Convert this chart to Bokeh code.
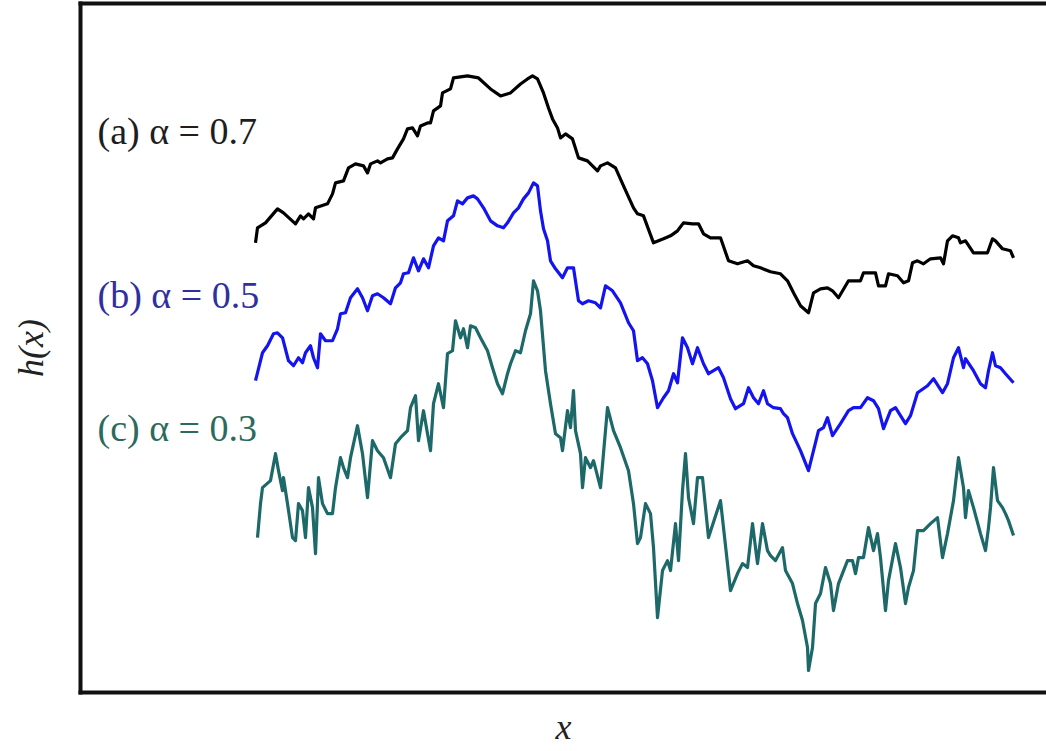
from bokeh.plotting import figure
from bokeh.models import Range1d, LinearAxis, FixedTicker, Label
from bokeh.embed import file_html
from bokeh.resources import INLINE

# ---- data ----
xa = [255, 257, 265, 277, 283, 295, 300, 303, 308, 313, 315, 327, 332, 335, 343, 348, 355, 363, 367, 370,
      377, 380, 387, 392, 397, 403, 407, 412, 417, 420, 427, 430, 433, 440, 442, 450, 453, 467, 478, 490,
      500, 510, 520, 527, 532, 537, 543, 548, 552, 557, 560, 565, 572, 578, 587, 597, 600, 607, 615, 623,
      633, 637, 643, 653, 663, 670, 677, 683, 692, 698, 703, 710, 720, 728, 737, 747, 753, 760, 770, 780,
      787, 793, 800, 808, 813, 820, 827, 832, 838, 848, 860, 863, 875, 878, 885, 888, 897, 903, 908, 912,
      917, 923, 930, 940, 943, 947, 952, 958, 960, 965, 973, 987, 992, 995, 1002, 1010, 1013]
ha = [450, 465, 470, 484, 480, 469, 477, 474, 479, 474, 485, 489, 499, 510, 512, 525, 529, 527, 520, 529,
      532, 530, 534, 535, 544, 554, 564, 565, 557, 567, 570, 570, 582, 587, 600, 604, 615, 617, 615, 604,
      597, 600, 609, 614, 617, 614, 600, 585, 574, 565, 555, 559, 554, 535, 532, 522, 527, 530, 525, 507,
      485, 479, 477, 450, 454, 457, 462, 470, 469, 469, 459, 455, 455, 432, 429, 432, 427, 425, 421, 419,
      412, 400, 387, 380, 400, 404, 405, 402, 395, 412, 412, 420, 420, 407, 407, 419, 417, 410, 412, 430,
      432, 429, 434, 435, 429, 452, 457, 455, 450, 452, 440, 440, 454, 452, 444, 442, 435]

xb = [255, 262, 267, 273, 277, 282, 288, 293, 298, 302, 305, 310, 313, 317, 320, 325, 332, 337, 340, 345,
      350, 357, 362, 367, 372, 377, 383, 390, 395, 400, 403, 408, 413, 418, 423, 428, 433, 438, 443, 447,
      453, 457, 462, 467, 473, 477, 483, 490, 497, 503, 507, 513, 518, 523, 528, 533, 537, 540, 543, 547,
      550, 555, 562, 567, 573, 578, 582, 588, 595, 600, 605, 612, 620, 628, 633, 637, 642, 647, 652, 657,
      663, 668, 673, 677, 682, 687, 692, 697, 703, 708, 718, 723, 730, 735, 743, 748, 753, 758, 763, 767,
      773, 780, 783, 787, 792, 800, 808, 813, 818, 823, 827, 832, 840, 848, 853, 860, 867, 873, 878, 883,
      890, 895, 900, 905, 910, 917, 927, 933, 942, 947, 953, 958, 963, 965, 973, 980, 985, 988, 992, 995,
      1000, 1005, 1013]
hb = [312, 340, 347, 359, 360, 355, 332, 327, 335, 330, 340, 347, 335, 325, 359, 352, 352, 364, 379, 380,
      395, 404, 395, 382, 397, 399, 395, 389, 405, 410, 419, 420, 435, 422, 434, 425, 447, 455, 452, 472,
      477, 492, 489, 495, 497, 494, 485, 472, 467, 465, 470, 480, 485, 494, 500, 510, 507, 482, 464, 452,
      432, 424, 415, 425, 425, 392, 389, 392, 390, 385, 407, 402, 390, 370, 362, 332, 335, 329, 312, 285,
      295, 302, 319, 310, 355, 345, 329, 345, 329, 319, 325, 315, 294, 284, 289, 305, 295, 289, 302, 289,
      285, 284, 279, 275, 259, 242, 222, 242, 262, 265, 275, 257, 269, 282, 285, 285, 295, 292, 284, 264,
      282, 285, 277, 269, 277, 300, 307, 314, 300, 309, 335, 345, 325, 334, 322, 309, 305, 322, 340, 327,
      325, 319, 310]

xc = [257, 260, 262, 270, 275, 278, 282, 283, 287, 292, 295, 298, 302, 305, 308, 312, 315, 318, 322, 327,
      332, 335, 340, 343, 347, 350, 357, 362, 367, 372, 377, 383, 390, 395, 400, 407, 410, 415, 418, 423,
      430, 433, 438, 443, 447, 452, 455, 460, 463, 467, 470, 475, 480, 487, 492, 497, 502, 507, 510, 515,
      520, 525, 530, 533, 537, 540, 545, 550, 555, 560, 562, 567, 570, 573, 575, 580, 582, 585, 590, 593,
      600, 607, 613, 620, 628, 633, 637, 640, 645, 650, 653, 657, 662, 667, 670, 675, 678, 682, 685, 688,
      693, 697, 702, 708, 720, 730, 737, 742, 747, 752, 757, 762, 767, 770, 775, 782, 785, 792, 797, 802,
      807, 808, 812, 815, 820, 825, 830, 833, 838, 847, 852, 855, 858, 863, 868, 873, 877, 880, 885, 888,
      895, 900, 905, 908, 913, 917, 923, 930, 937, 942, 947, 953, 958, 963, 965, 968, 973, 980, 985, 988,
      990, 993, 997, 1002, 1005, 1008, 1013]
hc = [155, 189, 205, 212, 239, 222, 202, 215, 189, 155, 152, 189, 182, 155, 205, 185, 139, 215, 189, 179,
      179, 205, 235, 225, 215, 235, 267, 239, 195, 252, 242, 235, 215, 249, 255, 262, 285, 297, 252, 282,
      242, 289, 309, 285, 339, 342, 372, 355, 364, 345, 367, 365, 355, 342, 325, 309, 299, 319, 329, 342,
      340, 362, 379, 412, 402, 382, 322, 289, 259, 255, 242, 282, 265, 302, 262, 239, 205, 235, 225, 232,
      205, 285, 262, 245, 222, 189, 149, 155, 189, 179, 145, 75, 122, 132, 122, 169, 132, 202, 239, 195,
      169, 215, 215, 155, 192, 102, 119, 129, 125, 169, 129, 169, 142, 137, 132, 145, 122, 109, 89, 72,
      45, 22, 45, 89, 99, 125, 109, 82, 109, 132, 132, 119, 135, 135, 165, 142, 159, 135, 82, 112,
      149, 125, 89, 105, 122, 162, 162, 169, 175, 135, 159, 192, 235, 205, 175, 202, 185, 159, 142, 165,
      185, 225, 192, 185, 179, 172, 157]

series_x = [xa, xb, xc]
series_h = [ha, hb, hc]
line_colors = ["#000000", "#1414f0", "#1d6868"]
label_texts = ["(a) \u03b1 = 0.7", "(b) \u03b1 = 0.5", "(c) \u03b1 = 0.3"]
label_h = [562, 398, 265]
label_colors = ["#1e1e1e", "#2f2fa0", "#2c6a5e"]

SERIF = "Liberation Serif"

p = figure(width=1046, height=751, output_backend="svg", toolbar_location=None,
           x_range=Range1d(80, 1046), y_range=Range1d(0, 689.5),
           x_axis_type=None, y_axis_type=None,
           min_border_left=80, min_border_right=0, min_border_top=3, min_border_bottom=59)
p.outline_line_color = None
p.background_fill_color = "white"
p.border_fill_color = "white"


def frame_axis(label=None):
    ax = LinearAxis(ticker=FixedTicker(ticks=[]), axis_line_width=4, axis_line_color="#111111",
                    axis_line_cap="square", major_tick_line_color=None, minor_tick_line_color=None,
                    major_label_text_font_size="0px")
    if label is not None:
        ax.axis_label = label
        ax.axis_label_text_font = SERIF
        ax.axis_label_text_font_style = "italic"
        ax.axis_label_text_font_size = "36px"
        ax.axis_label_text_color = "#222222"
    return ax


yax = frame_axis("h(x)")
yax.axis_label_standoff = 30
p.add_layout(yax, "left")
xax = frame_axis("x")
xax.axis_label_standoff = 14
p.add_layout(xax, "below")
p.add_layout(frame_axis(), "above")

for xs, hs, c in zip(series_x, series_h, line_colors):
    p.line(xs, hs, line_color=c, line_width=3.2, line_join="round")

for t, hy, c in zip(label_texts, label_h, label_colors):
    p.add_layout(Label(x=97, y=hy, text=t, text_font=SERIF, text_font_size="38px",
                       text_color=c, text_baseline="middle", text_align="left"))

open("out.html", "w").write(file_html(p, INLINE))
